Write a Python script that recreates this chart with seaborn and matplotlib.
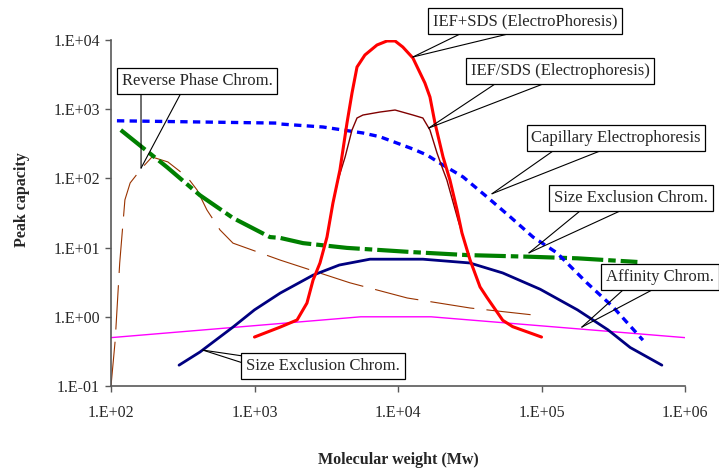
import numpy as np
import pandas as pd
import matplotlib
matplotlib.use('Agg')
import matplotlib.pyplot as plt
import seaborn as sns
from matplotlib.ticker import FuncFormatter, FixedLocator, NullLocator

# data (molecular weight vs peak capacity)
ief_sds_mw = [1000, 1510, 1980, 2320, 2560, 2860, 3200, 3520, 3940, 4410, 4780, 5180, 5880, 7140,
              8380, 9540, 10800, 12700, 15400, 16700, 18100, 20600, 23000, 25800, 27900, 31800,
              37300, 41700, 53700, 63000, 100000]
ief_sds_pc = [0.51, 0.71, 0.90, 1.58, 3.4, 6.0, 14.2, 44, 133, 630, 1710, 4070, 6070, 8470,
              9680, 9680, 7920, 5490, 2390, 1500, 630, 204, 95, 35, 16.3, 6.6,
              2.7, 1.9, 0.89, 0.72, 0.51]

ief_2d_mw = [1000, 1510, 1980, 2320, 2560, 2860, 3200, 3520, 3820, 4280, 4780, 5180, 5700, 7480,
             9540, 12700, 14900, 16700, 18700, 20600, 21900, 26200, 27900, 31800, 37300, 41700,
             53700, 63000, 100000]
ief_2d_pc = [0.51, 0.71, 0.90, 1.58, 3.4, 6.0, 14.2, 44, 95, 204, 500, 746, 824, 910,
             973, 824, 746, 500, 233, 133, 95, 25, 16.3, 6.6, 2.7, 1.9,
             0.89, 0.72, 0.51]

cap_mw = [110, 1435, 1510, 3000, 5700, 7480, 9840, 12700, 15900, 19600, 28400, 41700, 60300,
          87300, 128000, 207000, 315000, 509000]
cap_pc = [680, 630, 611, 553, 453, 400, 324, 266, 218, 166, 105, 54, 28,
          14.2, 8.4, 3.1, 1.39, 0.46]

sec_mw = [117, 245, 417, 708, 1280, 1510, 2180, 4410, 12700, 30200, 79000, 178000, 466000]
sec_pc = [500, 146, 57, 26.8, 14.2, 13.8, 11.6, 9.9, 8.6, 7.8, 7.4, 7.0, 6.2]

rp_mw = [100, 107, 115, 125, 136, 164, 193, 249, 339, 398, 466, 575, 708, 1510, 4620, 11600,
         31800, 85000]
rp_pc = [0.1, 0.46, 6.0, 49, 86, 141, 204, 173, 105, 68, 35, 18, 11.6, 6.6, 3.1, 1.87,
         1.34, 1.07]

aff_mw = [100, 5500, 17000, 1000000]
aff_pc = [0.5, 1.0, 1.0, 0.5]

sec2_mw = [298, 417, 708, 1000, 1510, 2560, 3900, 6380, 14900, 31600, 53700, 98000, 178000,
           290000, 415000, 690000]
sec2_pc = [0.2, 0.31, 0.71, 1.26, 2.2, 4.0, 5.6, 6.8, 6.8, 6.0, 4.3, 2.5, 1.26,
           0.65, 0.36, 0.2]

# callout labels and the curve point each one marks
callout_text = ['IEF+SDS (ElectroPhoresis)', 'IEF/SDS (Electrophoresis)',
                'Capillary Electrophoresis', 'Size Exclusion Chrom.', 'Affinity Chrom.',
                'Size Exclusion Chrom.', 'Reverse Phase Chrom.']
callout_mw = [12700, 16400, 45200, 81800, 191000, 437, 162]
callout_pc = [5680, 535, 60, 8.4, 0.71, 0.33, 141]

sns.set_style('white')
plt.rcParams['font.family'] = ['Liberation Serif', 'DejaVu Serif']

fig = plt.figure(figsize=(7.19, 4.68), dpi=100)
ax = fig.add_axes([111 / 719, 1 - 386 / 468, 574 / 719, 346 / 468])
ax.set_xscale('log')
ax.set_yscale('log')

series = [
    (rp_mw, rp_pc, dict(color='#993300', lw=0.8, linestyle=(0, (40, 11)))),
    (aff_mw, aff_pc, dict(color='#FF00FF', lw=1.0, linestyle='-')),
    (sec2_mw, sec2_pc, dict(color='#000080', lw=2.0, linestyle='-')),
    (sec_mw, sec_pc, dict(color='#008000', lw=3.0, linestyle=(0, (7.5, 1.2, 1.8, 1.2)))),
    (cap_mw, cap_pc, dict(color='#0000FF', lw=2.4, linestyle=(0, (2.2, 1.6)))),
    (ief_2d_mw, ief_2d_pc, dict(color='#800000', lw=1.0, linestyle='-')),
    (ief_sds_mw, ief_sds_pc, dict(color='#FF0000', lw=2.2, linestyle='-')),
]
for mw, pc, style in series:
    df = pd.DataFrame({'mw': mw, 'pc': pc})
    sns.lineplot(data=df, x='mw', y='pc', ax=ax, errorbar=None, sort=False, **style)

ax.set_xlim(100, 1e6)
ax.set_ylim(0.1, 1e4)
ax.xaxis.set_major_locator(FixedLocator([1e2, 1e3, 1e4, 1e5, 1e6]))
ax.yaxis.set_major_locator(FixedLocator([1e-1, 1e0, 1e1, 1e2, 1e3, 1e4]))
ax.xaxis.set_minor_locator(NullLocator())
ax.yaxis.set_minor_locator(NullLocator())
fmt = FuncFormatter(lambda v, p: '1.E%+03d' % round(np.log10(v)))
ax.xaxis.set_major_formatter(fmt)
ax.yaxis.set_major_formatter(fmt)
ax.tick_params(axis='both', direction='out', length=4, width=1, color='#595959',
               labelsize=11.5, left=True, bottom=True)
ax.tick_params(axis='x', pad=10)
ax.tick_params(axis='y', pad=4)

for s in ['top', 'right']:
    ax.spines[s].set_visible(False)
for s in ['left', 'bottom']:
    ax.spines[s].set_color('#595959')
    ax.spines[s].set_linewidth(1.2)

ax.set_xlabel('Molecular weight (Mw)', fontsize=11.5, fontweight='bold')
ax.set_ylabel('Peak capacity', fontsize=11.5, fontweight='bold')
ax.xaxis.set_label_coords(0.5, -0.19)
ax.yaxis.set_label_coords(-0.141, 0.54)

# box centres and the two base points of each pointer, figure pixels
box_pos = [(525, 447), (560, 397), (616, 330), (631, 270), (660, 191), (323, 102), (197, 387)]
base_pts = [((460, 434), (508, 434)), ((495, 384), (543, 384)), ((553, 317), (600, 317)),
            ((580, 257), (620, 257)), ((623, 178), (652, 178)), ((243, 112), (243, 105)),
            ((141, 375), (181, 375))]

for txt, mw, pc, pos, bases in zip(callout_text, callout_mw, callout_pc, box_pos, base_pts):
    for b in bases:
        ax.annotate('', xy=(mw, pc), xycoords='data', xytext=b, textcoords='figure pixels',
                    arrowprops=dict(arrowstyle='-', color='black', lw=0.8,
                                    shrinkA=0, shrinkB=0), annotation_clip=False)
    ax.annotate(txt, xy=pos, xycoords='figure pixels', ha='center', va='center',
                fontsize=12, zorder=6, annotation_clip=False,
                bbox=dict(boxstyle='square,pad=0.28', fc='white', ec='black', lw=0.9))

fig.savefig('out.png', dpi=100)
